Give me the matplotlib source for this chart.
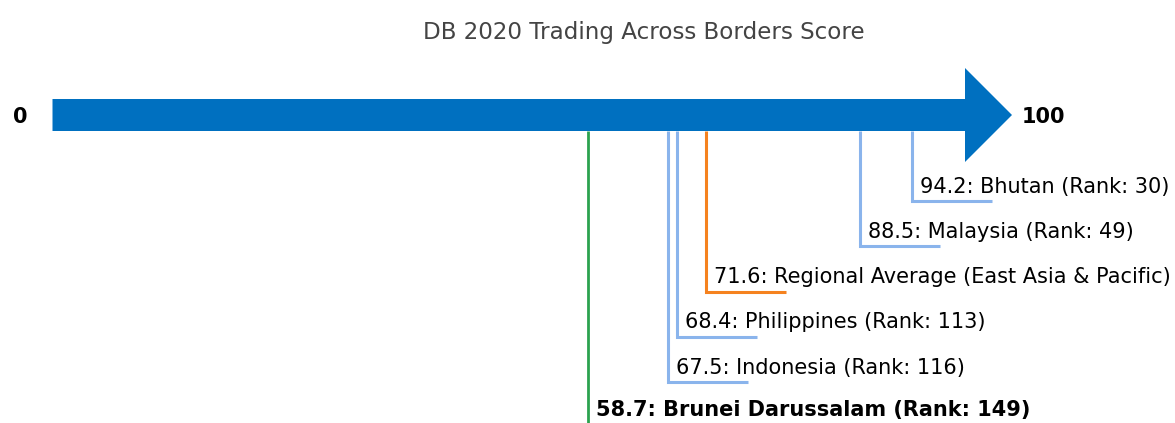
import matplotlib
matplotlib.use("Agg")
import matplotlib.pyplot as plt

plt.rcParams["font.family"] = ["DejaVu Sans"]

# Data
countries = ["Bhutan", "Malaysia", "Regional Average (East Asia & Pacific)",
             "Philippines", "Indonesia", "Brunei Darussalam"]
scores = [94.2, 88.5, 71.6, 68.4, 67.5, 58.7]
ranks = [30, 49, None, 113, 116, 149]
title = "DB 2020 Trading Across Borders Score"
scale_min, scale_max = 0, 100

# Styles
BLUE = "#0070c0"
LIGHT = "#8ab4ec"
ORANGE = "#f5821f"
GREEN = "#2ca24f"

W, H = 1175, 423
fig = plt.figure(figsize=(W / 100, H / 100), dpi=100)
ax = fig.add_axes([0, 0, 1, 1])
px = 9.125  # pixels per score unit
x0px = 52.5
ax.set_xlim(-x0px / px, (W - x0px) / px)
ax.set_ylim(H, 0)
ax.axis("off")

# arrow
bar_top, bar_bot = 99, 131
head_top, head_bot = 68, 162
head_len = 47 / px
yc = (bar_top + bar_bot) / 2
ax.fill([scale_min, scale_max, scale_max, scale_max + head_len, scale_max, scale_max, scale_min],
        [bar_top, bar_top, head_top, yc, head_bot, bar_bot, bar_bot],
        color=BLUE, lw=0, zorder=3)
ax.text(20.5 / px - x0px / px, yc + 2, str(scale_min), ha="center", va="center",
        fontsize=15, fontweight="bold", color="black")
ax.text(scale_max + head_len + 10 / px, yc + 2, str(scale_max), ha="left", va="center",
        fontsize=15, fontweight="bold", color="black")

fig.text(644 / W, 1 - 33 / H, title, ha="center", va="center", fontsize=16.6, color="#444444")

row0 = 201
row_step = 45.3
hlen = 80 / px
for i, (c, s, r) in enumerate(zip(countries, scores, ranks)):
    yb = row0 + i * row_step
    if r is None:
        col = ORANGE
        label = f"{s}: {c}"
    elif c == "Brunei Darussalam":
        col = GREEN
        label = f"{s}: {c} (Rank: {r})"
    else:
        col = LIGHT
        label = f"{s}: {c} (Rank: {r})"
    if c == "Brunei Darussalam":
        ax.plot([s, s], [bar_bot, H + 5], color=col, lw=2, zorder=2, solid_capstyle="butt")
        ax.text(s + 8 / px, 410, label, ha="left", va="center", fontsize=15,
                fontweight="bold", color="black")
    else:
        ax.plot([s, s, s + hlen], [bar_bot, yb, yb], color=col, lw=2.2, zorder=2,
                solid_joinstyle="miter", solid_capstyle="butt")
        ax.text(s + 8 / px, yb - 14.5, label, ha="left", va="center", fontsize=15,
                color="black")

fig.savefig("out.png", dpi=100)
